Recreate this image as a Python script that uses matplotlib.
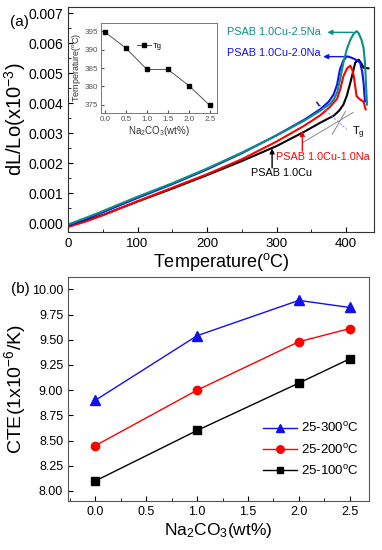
import numpy as np
import matplotlib
matplotlib.use('Agg')
import matplotlib.pyplot as plt
from matplotlib.ticker import MultipleLocator, FormatStrFormatter

plt.rcParams['font.family'] = ['Liberation Sans', 'DejaVu Sans']
plt.rcParams['mathtext.fontset'] = 'custom'
plt.rcParams['mathtext.rm'] = 'Liberation Sans'
plt.rcParams['mathtext.it'] = 'Liberation Sans:italic'

# ---- (a) dilatometer curves, values in units of 1e-3 ----
T_cu = [0, 25, 50, 100, 150, 200, 250, 300, 340, 363, 382, 390, 396, 401, 406, 410, 413, 418, 422, 425, 432]
dl_cu = [-0.10, 0.08, 0.27, 0.72, 1.15, 1.60, 2.07, 2.57, 3.05, 3.35, 3.58, 3.75, 3.95, 4.25, 4.68, 5.05, 5.35, 5.45, 5.32, 5.18, 5.16]

T_na10 = [0, 25, 50, 100, 150, 200, 250, 300, 340, 363, 377, 387, 392, 396, 401, 406, 409, 411, 415, 420, 425, 428]
dl_na10 = [-0.13, 0.05, 0.26, 0.73, 1.18, 1.63, 2.13, 2.72, 3.25, 3.60, 3.88, 4.15, 4.50, 4.89, 5.15, 5.25, 5.10, 4.89, 4.23, 4.12, 4.05, 3.79]

T_na20 = [0, 25, 50, 100, 150, 200, 250, 300, 340, 363, 375, 382, 387, 391, 396, 401, 406, 411, 416, 420, 423, 425, 427]
dl_na20 = [-0.08, 0.13, 0.36, 0.84, 1.30, 1.79, 2.33, 2.93, 3.45, 3.80, 4.05, 4.29, 4.62, 5.12, 5.42, 5.56, 5.53, 5.48, 5.42, 5.35, 5.05, 4.68, 4.06]

T_na25 = [0, 25, 50, 100, 150, 200, 250, 300, 340, 363, 377, 382, 387, 391, 396, 401, 406, 411, 415, 418, 422, 425, 427, 430]
dl_na25 = [-0.05, 0.17, 0.40, 0.88, 1.33, 1.82, 2.35, 2.92, 3.42, 3.75, 3.98, 4.12, 4.35, 4.75, 5.35, 5.80, 6.11, 6.32, 6.40, 6.33, 6.11, 5.85, 5.35, 3.95]

# tangent construction for Tg
tan1_T, tan1_v = [338, 410], [2.69, 3.69]
tan2_T, tan2_v = [380, 399], [2.96, 3.72]
norm_T, norm_v = [358, 401], [4.02, 3.12]

# inset: Tg vs Na2CO3
na_inset = [0.0, 0.5, 1.0, 1.5, 2.0, 2.5]
tg_inset = [394.8, 390.4, 384.6, 384.6, 380.2, 374.8]

# ---- (b) CTE ----
na = [0.0, 1.0, 2.0, 2.5]
cte_300 = [8.90, 9.54, 9.89, 9.82]
cte_200 = [8.45, 9.00, 9.48, 9.61]
cte_100 = [8.10, 8.60, 9.07, 9.31]

teal = '#0a9080'
blue = '#1010f0'
red = '#ff0000'
spine_c = '#333333'

fig = plt.figure(figsize=(3.82, 5.5), dpi=100)

ax = fig.add_axes([0.178, 0.578, 0.801, 0.409])
k = 1e-3
ax.plot(T_cu, np.array(dl_cu) * k, color='black', lw=1.5)
ax.plot(T_na10, np.array(dl_na10) * k, color=red, lw=1.5)
ax.plot(T_na20, np.array(dl_na20) * k, color=blue, lw=1.5)
ax.plot(T_na25, np.array(dl_na25) * k, color=teal, lw=1.5)
ax.plot(tan1_T, np.array(tan1_v) * k, color='#888888', lw=0.7)
ax.plot(tan2_T, np.array(tan2_v) * k, color='#888888', lw=0.7)
ax.plot(norm_T, np.array(norm_v) * k, color='#8080ff', lw=0.7, ls=(0, (2, 2)))
ax.plot(norm_T[0] + np.array([0, 3]), (norm_v[0] + np.array([0, -0.1])) * k, color='#2020a0', lw=1.2)

ax.set_xlim(0, 440)
ax.set_ylim(-0.0003, 0.0072)
ax.xaxis.set_major_locator(MultipleLocator(100))
ax.xaxis.set_minor_locator(MultipleLocator(50))
ax.yaxis.set_major_locator(MultipleLocator(0.001))
ax.yaxis.set_minor_locator(MultipleLocator(0.0005))
ax.yaxis.set_major_formatter(FormatStrFormatter('%.3f'))
ax.tick_params(which='both', direction='in')
ax.tick_params(axis='x', labelsize=9.5, pad=4)
ax.tick_params(axis='y', labelsize=10)
for s in ax.spines.values():
    s.set_color(spine_c)
ax.set_xlabel('Temperature($^{\\rm o}$C)', fontsize=13, labelpad=1)
ax.set_ylabel('dL/Lo(x10$^{-3}$)', fontsize=14.5, labelpad=0.5)
fig.text(0.025, 0.953, '(a)', fontsize=11)

arr = dict(arrowstyle='-|>', lw=1.0, mutation_scale=7, shrinkA=0, shrinkB=0)
ax.annotate('', xy=(373, 6.36e-3), xytext=(410, 6.36e-3), arrowprops=dict(arr, color=teal))
ax.text(363, 6.38e-3, 'PSAB 1.0Cu-2.5Na', color=teal, fontsize=7.8, ha='right', va='center')
ax.annotate('', xy=(367, 5.55e-3), xytext=(396, 5.55e-3), arrowprops=dict(arr, color=blue))
ax.text(363, 5.68e-3, 'PSAB 1.0Cu-2.0Na', color=blue, fontsize=7.8, ha='right', va='center')
ax.annotate('', xy=(337, 3.07e-3), xytext=(337, 2.40e-3), arrowprops=dict(arr, color=red))
ax.text(299, 2.22e-3, 'PSAB 1.0Cu-1.0Na', color=red, fontsize=7.8, ha='left', va='center')
ax.annotate('', xy=(293.5, 2.49e-3), xytext=(293.5, 1.84e-3), arrowprops=dict(arr, color='black'))
ax.text(263, 1.66e-3, 'PSAB 1.0Cu', color='black', fontsize=7.8, ha='left', va='center')
ax.text(408, 3.02e-3, 'T$_{\\rm g}$', color='black', fontsize=8, ha='left', va='center')

# inset
ins = fig.add_axes([0.264, 0.795, 0.304, 0.164])
ins.plot(na_inset, tg_inset, color='#555555', lw=0.7, marker='s', ms=3,
         mfc='black', mec='black', label='Tg')
ins.set_xlim(-0.1, 2.67)
ins.set_ylim(372.8, 397.4)
ins.xaxis.set_major_locator(MultipleLocator(0.5))
ins.yaxis.set_major_locator(MultipleLocator(5))
ins.xaxis.set_major_formatter(FormatStrFormatter('%.1f'))
ins.tick_params(direction='in', labelsize=5.8, length=2, pad=2, colors='#555555')
for s in ins.spines.values():
    s.set_color('#777777')
    s.set_linewidth(0.7)
ins.set_xlabel('Na$_2$CO$_3$(wt%)', fontsize=7, labelpad=1, color='#333333')
ins.set_ylabel('Temperature($^{\\rm o}$C)', fontsize=6.5, labelpad=1, color='#333333')
ins.legend(loc='upper left', bbox_to_anchor=(0.28, 0.82), frameon=False, fontsize=5.5,
           handlelength=1.8, handletextpad=0.3, borderpad=0)

# ---- (b) ----
bx = fig.add_axes([0.178, 0.089, 0.788, 0.407])
bx.plot(na, cte_300, color=blue, lw=1.0, marker='^', ms=7, label='25-300$^{\\rm o}$C')
bx.plot(na, cte_200, color=red, lw=1.0, marker='o', ms=6, label='25-200$^{\\rm o}$C')
bx.plot(na, cte_100, color='black', lw=1.0, marker='s', ms=5.5, label='25-100$^{\\rm o}$C')
bx.set_xlim(-0.27, 2.69)
bx.set_ylim(7.9, 10.12)
bx.xaxis.set_major_locator(MultipleLocator(0.5))
bx.xaxis.set_minor_locator(MultipleLocator(0.25))
bx.yaxis.set_major_locator(MultipleLocator(0.25))
bx.xaxis.set_major_formatter(FormatStrFormatter('%.1f'))
bx.yaxis.set_major_formatter(FormatStrFormatter('%.2f'))
bx.tick_params(which='both', direction='in', labelsize=9)
for s in bx.spines.values():
    s.set_color('#555555')
bx.set_xlabel('Na$_2$CO$_3$(wt%)', fontsize=12.5, labelpad=2)
bx.set_ylabel('CTE(1x10$^{-6}$/K)', fontsize=14, labelpad=3)
bx.legend(loc='upper left', bbox_to_anchor=(0.607, 0.41), frameon=False, fontsize=9.5,
          handlelength=2.6, labelspacing=0.55, handletextpad=0.3, markerscale=0.9)
fig.text(0.03, 0.468, '(b)', fontsize=11)

fig.savefig('out.png', dpi=100)
